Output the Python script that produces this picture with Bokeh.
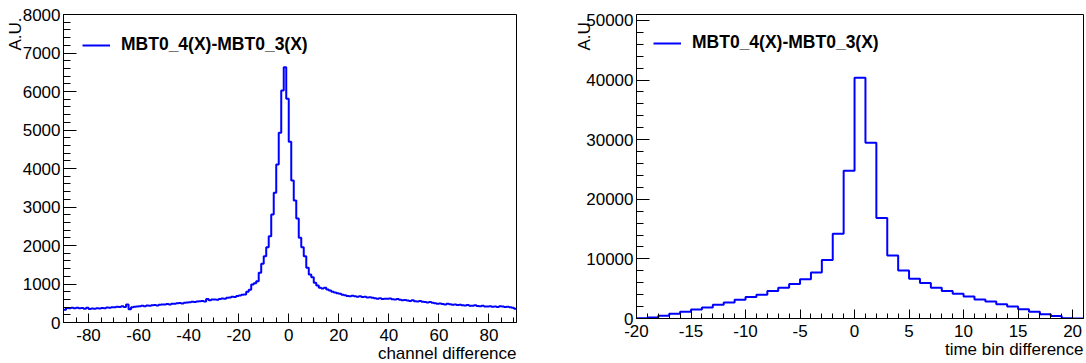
from bokeh.plotting import figure
from bokeh.layouts import row
from bokeh.models import Range1d, SingleIntervalTicker, Legend, LegendItem, ColumnDataSource, Title
from bokeh.embed import file_html
from bokeh.resources import INLINE

# ---------------- data ----------------
channel_first_bin = -90          # bins of width 1: [-90,-89) ... [90,91)
channel_counts = [
    330, 375, 370, 385, 372, 380, 368, 375, 360, 382,      # -90..-81
    350, 362, 355, 372, 365, 378, 370, 392, 380, 398,      # -80..-71
    395, 410, 402, 420, 405, 470, 345, 395, 410, 418,      # -70..-61
    425, 432, 420, 440, 438, 445, 452, 440, 462, 468,      # -60..-51
    470, 478, 465, 490, 485, 498, 505, 495, 512, 520,      # -50..-41
    528, 540, 530, 548, 555, 560, 548, 612, 578, 597,      # -40..-31
    600, 590, 612, 625, 618, 640, 652, 668, 660, 690,      # -30..-21
    700, 720, 727, 797, 849, 987, 1021, 1073, 1290, 1524,  # -20..-11
    1722, 1956, 2242, 2805, 3368, 4104, 4927, 6026, 6631, 5810,  # -10..-1
    4693, 3688, 3169, 2701, 2199, 1956, 1722, 1420, 1247, 1177,  # 0..9
    1031, 961, 901, 880, 905, 860, 830, 800, 782, 760,     # 10..19
    745, 720, 705, 690, 683, 695, 680, 672, 685, 660,      # 20..29
    668, 650, 655, 640, 628, 615, 630, 612, 620, 616,      # 30..39
    625, 605, 598, 610, 590, 575, 585, 571, 560, 575,      # 40..49
    552, 545, 560, 537, 530, 522, 535, 510, 500, 485,      # 50..59
    492, 480, 470, 488, 475, 462, 468, 455, 460, 448,      # 60..69
    440, 452, 438, 433, 445, 428, 420, 432, 418, 416,      # 70..79
    425, 410, 418, 405, 420, 416, 402, 410, 395, 381,      # 80..89
    355,                                                   # 90
]

timebin_first_bin = -20          # bins of width 1: [-20,-19) ... [20,21)
timebin_counts = [
    50, 150, 450, 790, 1120, 1520, 1850, 2300, 2700, 3150,        # -20..-11
    3600, 4000, 4600, 5170, 5800, 6570, 7700, 9830, 14200, 24800,  # -10..-1
    40400, 29500, 16860, 10590, 8070, 6670, 5940, 5150, 4600, 4150,  # 0..9
    3700, 3190, 2860, 2410, 2020, 1570, 1120, 730, 400, 60,       # 10..19
    0,                                                             # 20
]

left_xtick_labels = ["-80", "-60", "-40", "-20", "0", "20", "40", "60", "80"]
right_xtick_labels = ["-20", "-15", "-10", "-5", "0", "5", "10", "15", "20"]

series_name = "MBT0_4(X)-MBT0_3(X)"
left_xlabel = "channel difference"
right_xlabel = "time bin difference"
ylabel = "A.U."

FONT = "Liberation Sans"


def step_source(first, counts):
    edges = [first + i for i in range(len(counts) + 1)]
    return ColumnDataSource(dict(x=edges, y=list(counts) + [counts[-1]]))


def make_panel(src, xr, yr, xint, xminor, yint, yminor, xtick_labels,
               fw, fh, bl, br, bt, bb, leg_loc, xlabel, ylab_standoff):
    p = figure(frame_width=fw, frame_height=fh,
               min_border_left=bl, min_border_right=br,
               min_border_top=bt, min_border_bottom=bb,
               x_range=Range1d(*xr), y_range=Range1d(*yr),
               output_backend="svg", toolbar_location=None, tools="")
    p.background_fill_color = "white"
    p.border_fill_color = "white"
    p.grid.visible = False
    p.outline_line_color = "black"
    p.outline_line_width = 1

    r = p.step(x="x", y="y", source=src, mode="after",
               line_color="#0000ff", line_width=2)

    p.xaxis.ticker = SingleIntervalTicker(interval=xint, num_minor_ticks=xminor)
    p.yaxis.ticker = SingleIntervalTicker(interval=yint, num_minor_ticks=yminor)
    p.xaxis.major_label_overrides = {int(s): s for s in xtick_labels}
    for ax in (p.xaxis, p.yaxis):
        ax.axis_line_color = "black"
        ax.axis_line_width = 1
        ax.major_tick_line_color = "black"
        ax.minor_tick_line_color = "black"
        ax.major_tick_out = 0
        ax.minor_tick_out = 0
        ax.major_label_text_font = FONT
        ax.major_label_text_font_size = "17px"
        ax.major_label_text_color = "black"
    p.xaxis.major_tick_in = 9
    p.xaxis.minor_tick_in = 5
    p.yaxis.major_tick_in = 13
    p.yaxis.minor_tick_in = 7
    p.xaxis.major_label_standoff = 6
    p.yaxis.major_label_standoff = 3

    p.add_layout(Title(text=xlabel, align="right", standoff=-4,
                       text_font=FONT, text_font_size="17px",
                       text_font_style="normal", text_color="black"), "below")
    p.add_layout(Title(text=ylabel, align="right", standoff=ylab_standoff,
                       offset=3, text_font=FONT, text_font_size="17px",
                       text_font_style="normal", text_color="black"), "left")

    leg = Legend(items=[LegendItem(label=series_name, renderers=[r])],
                 location=leg_loc, padding=0, margin=0,
                 border_line_color=None, background_fill_alpha=0,
                 glyph_width=28, glyph_height=20, label_height=20,
                 label_standoff=11,
                 label_text_font=FONT, label_text_font_style="bold",
                 label_text_font_size="17.5px", label_text_color="black")
    p.add_layout(leg)
    return p


left_src = step_source(channel_first_bin, channel_counts)
right_src = step_source(timebin_first_bin, timebin_counts)

p1 = make_panel(left_src, (-90, 91), (0, 8000), 20, 4, 1000, 5, left_xtick_labels,
                fw=453, fh=308, bl=63, br=57, bt=10, bb=45,
                leg_loc=(19, 267), xlabel=left_xlabel, ylab_standoff=-10)
p2 = make_panel(right_src, (-20, 21), (0, 51000), 5, 5, 10000, 5, right_xtick_labels,
                fw=447, fh=304, bl=63, br=3, bt=14, bb=45,
                leg_loc=(17, 265), xlabel=right_xlabel, ylab_standoff=-20)

layout = row(p1, p2, spacing=0)
open("out.html", "w").write(file_html(layout, INLINE))
